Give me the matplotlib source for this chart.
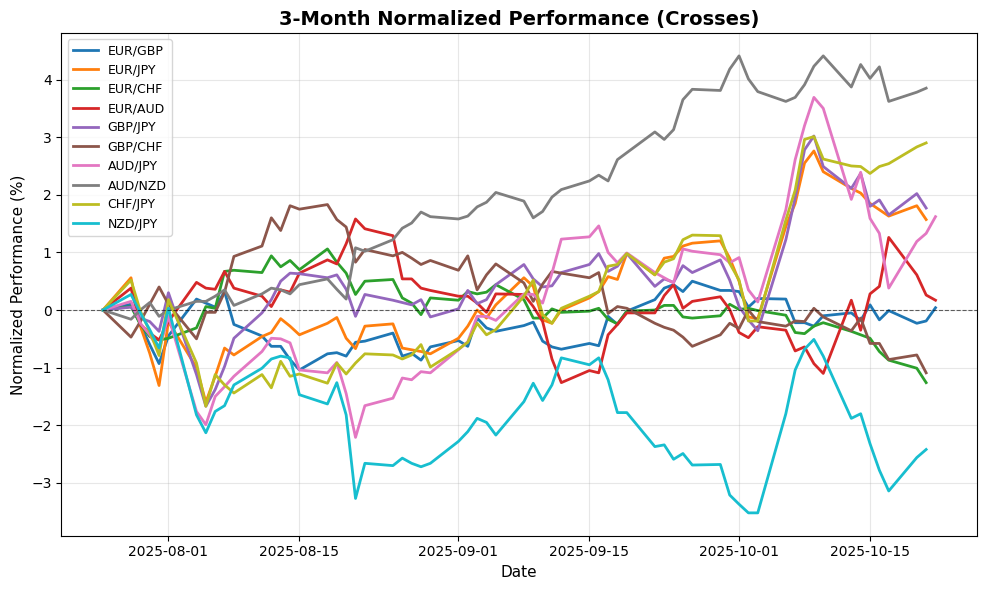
import matplotlib

matplotlib.use("Agg")
import matplotlib.pyplot as plt
import pandas as pd

# business days 2025-07-25 .. 2025-10-22
dates = pd.bdate_range("2025-07-25", "2025-10-22")

labels = ["EUR/GBP", "EUR/JPY", "EUR/CHF", "EUR/AUD", "GBP/JPY",
          "GBP/CHF", "AUD/JPY", "AUD/NZD", "CHF/JPY", "NZD/JPY"]

eur_gbp = [0, 0.10, -0.25, -0.60, -0.93, -0.45, 0.19, 0.12, 0.05, 0.32,
           -0.25, -0.45, -0.63, -0.63, -0.86, -1.04, -0.76, -0.74, -0.80, -0.56,
           -0.54, -0.40, -0.80, -0.75, -0.87, -0.64, -0.53, -0.63, -0.14, -0.31,
           -0.37, -0.27, -0.21, -0.54, -0.64, -0.68, -0.58, -0.62, -0.11, -0.25,
           -0.02, 0.18, 0.38, 0.44, 0.32, 0.50, 0.34, 0.34, 0.32, 0.05,
           0.20, 0.19, -0.22, -0.22, -0.28, -0.10, -0.05, -0.18, 0.09, -0.17,
           -0.01, -0.23, -0.19, 0.04]
eur_jpy = [0, 0.56, -0.28, -0.75, -1.31, -0.20, -1.00, -1.60, -1.15, -0.66,
           -0.78, -0.46, -0.39, -0.15, -0.28, -0.43, -0.23, -0.13, -0.49, -0.67,
           -0.28, -0.24, -0.66, -0.69, -0.72, -0.76, -0.49, -0.28, 0.00, -0.14,
           0.09, 0.56, 0.41, -0.17, -0.23, 0.00, 0.21, 0.32, 0.58, 0.53,
           0.98, 0.61, 0.90, 0.93, 1.11, 1.16, 1.20, 0.90, 0.50, -0.12,
           -0.15, 1.45, 1.85, 2.55, 2.76, 2.40, 2.11, 2.03, 1.85, 1.74,
           1.63, 1.81, 1.57]
eur_chf = [0, 0.06, -0.25, -0.46, -0.52, -0.49, -0.31, 0.06, 0.03, 0.67,
           0.69, 0.65, 0.94, 0.75, 0.86, 0.70, 1.06, 0.83, 0.64, 0.27,
           0.50, 0.53, 0.21, 0.12, -0.08, 0.21, 0.17, 0.32, 0.28, 0.31,
           0.44, 0.18, -0.14, -0.14, 0.02, -0.04, -0.02, 0.03, -0.16, -0.24,
           -0.02, 0.00, 0.08, 0.08, -0.12, -0.14, -0.10, 0.10, 0.01, 0.03,
           -0.01, -0.09, -0.39, -0.41, -0.28, -0.22, -0.37, -0.43, -0.49, -0.72,
           -0.87, -1.01, -1.26]
eur_aud = [0, 0.38, -0.25, -0.40, -0.52, -0.20, 0.48, 0.38, 0.36, 0.67,
           0.38, 0.24, 0.06, 0.35, 0.31, 0.64, 0.87, 0.80, 1.15, 1.58,
           1.41, 1.29, 0.54, 0.54, 0.38, 0.34, 0.24, 0.24, 0.12, -0.04,
           0.28, 0.27, 0.06, -0.20, -0.85, -1.26, -1.05, -1.09, -0.43, -0.25,
           -0.05, -0.05, 0.25, 0.44, 0.03, 0.15, 0.23, 0.01, -0.39, -0.48,
           -0.29, -0.35, -0.71, -0.64, -0.93, -1.10, 0.17, -0.35, 0.28, 0.41,
           1.26, 0.61, 0.26, 0.17]
gbp_jpy = [0, 0.05, -0.14, -0.20, -0.37, 0.30, -1.12, -1.67, -1.38, -0.98,
           -0.49, -0.05, 0.18, 0.50, 0.64, 0.63, 0.56, 0.61, 0.36, -0.11,
           0.27, 0.17, 0.13, 0.09, 0.18, -0.12, 0.02, 0.34, 0.11, 0.18,
           0.44, 0.79, 0.54, 0.40, 0.42, 0.65, 0.79, 0.98, 0.67, 0.76,
           0.98, 0.41, 0.54, 0.48, 0.77, 0.65, 0.87, 0.52, 0.06, -0.17,
           -0.36, 1.22, 1.95, 2.78, 3.02, 2.49, 2.11, 2.37, 1.80, 1.91,
           1.65, 2.02, 1.77]
gbp_chf = [0, -0.47, -0.20, 0.10, 0.40, 0.10, -0.50, -0.04, -0.04, 0.31,
           0.93, 1.11, 1.60, 1.38, 1.81, 1.75, 1.83, 1.57, 1.44, 0.83,
           1.05, 0.94, 1.00, 0.90, 0.79, 0.86, 0.69, 0.94, 0.35, 0.61,
           0.80, 0.47, 0.15, 0.45, 0.67, 0.64, 0.56, 0.65, -0.06, 0.06,
           0.03, -0.23, -0.30, -0.35, -0.47, -0.63, -0.43, -0.23, -0.32, 0.00,
           -0.20, -0.28, -0.19, -0.20, 0.03, -0.12, -0.36, -0.14, -0.58, -0.58,
           -0.86, -0.78, -1.09]
aud_jpy = [0, 0.15, -0.23, -0.43, -0.69, -0.11, -1.76, -1.99, -1.50, -1.33,
           -1.15, -0.72, -0.49, -0.50, -0.57, -1.04, -1.09, -0.91, -1.45, -2.21,
           -1.66, -1.53, -1.18, -1.21, -1.07, -1.09, -0.69, -0.55, -0.11, -0.11,
           -0.18, 0.28, 0.27, 0.12, 0.64, 1.23, 1.27, 1.46, 1.00, 0.82,
           0.99, 0.65, 0.56, 0.47, 1.06, 1.02, 0.96, 0.82, 0.91, 0.35,
           0.14, 1.74, 2.61, 3.20, 3.69, 3.50, 1.92, 2.39, 1.59, 1.33,
           0.38, 1.19, 1.33, 1.62]
aud_nzd = [0, -0.16, 0.00, 0.13, -0.11, 0.00, 0.15, 0.15, 0.24, 0.35,
           0.08, 0.28, 0.38, 0.35, 0.28, 0.44, 0.54, 0.36, 0.19, 1.08,
           1.02, 1.22, 1.42, 1.51, 1.70, 1.62, 1.58, 1.63, 1.79, 1.87,
           2.04, 1.89, 1.60, 1.71, 1.96, 2.09, 2.24, 2.34, 2.24, 2.61,
           2.73, 3.09, 2.96, 3.13, 3.65, 3.83, 3.81, 4.18, 4.41, 4.01,
           3.79, 3.62, 3.69, 3.91, 4.23, 4.41, 3.87, 4.26, 4.02, 4.22,
           3.62, 3.78, 3.85]
chf_jpy = [0, 0.52, -0.02, -0.37, -0.79, 0.18, -0.92, -1.67, -1.12, -1.30,
           -1.44, -1.12, -1.35, -0.89, -1.15, -1.11, -1.27, -0.92, -1.11, -0.92,
           -0.76, -0.78, -0.85, -0.78, -0.60, -0.99, -0.68, -0.56, -0.23, -0.43,
           -0.34, 0.24, 0.52, -0.08, -0.23, 0.03, 0.24, 0.32, 0.76, 0.79,
           0.98, 0.61, 0.83, 0.89, 1.22, 1.30, 1.29, 0.81, 0.52, -0.19,
           -0.19, 1.56, 2.08, 2.96, 3.01, 2.62, 2.50, 2.49, 2.37, 2.49,
           2.54, 2.83, 2.90]
nzd_jpy = [0, 0.27, -0.05, -0.34, -0.66, 0.03, -1.82, -2.13, -1.76, -1.66,
           -1.30, -1.01, -0.85, -0.80, -0.83, -1.47, -1.63, -1.26, -1.82, -3.27,
           -2.66, -2.70, -2.57, -2.66, -2.72, -2.66, -2.28, -2.11, -1.88, -1.95,
           -2.17, -1.59, -1.27, -1.57, -1.30, -0.83, -0.95, -0.83, -1.21, -1.78,
           -1.78, -2.37, -2.34, -2.59, -2.49, -2.69, -2.68, -3.21, -3.37, -3.52,
           -3.52, -1.80, -1.04, -0.68, -0.51, -0.80, -1.88, -1.80, -2.32, -2.78,
           -3.14, -2.56, -2.42]

series = [eur_gbp, eur_jpy, eur_chf, eur_aud, gbp_jpy,
          gbp_chf, aud_jpy, aud_nzd, chf_jpy, nzd_jpy]

fig, ax = plt.subplots(figsize=(9.89, 5.90), dpi=100)
fig.subplots_adjust(left=0.062, right=0.988, bottom=0.092, top=0.944)

for lab, vals in zip(labels, series):
    ax.plot(dates[:len(vals)], vals, label=lab, linewidth=2)

ax.axhline(0, color="black", linestyle="--", linewidth=0.8, alpha=0.6)
ax.set_title("3-Month Normalized Performance (Crosses)",
             fontsize=14, fontweight="bold")
ax.set_xlabel("Date", fontsize=11)
ax.set_ylabel("Normalized Performance (%)", fontsize=11)
ax.grid(True, alpha=0.3)
ax.legend(loc="upper left", fontsize=9)

fig.savefig("out.png", dpi=100)
